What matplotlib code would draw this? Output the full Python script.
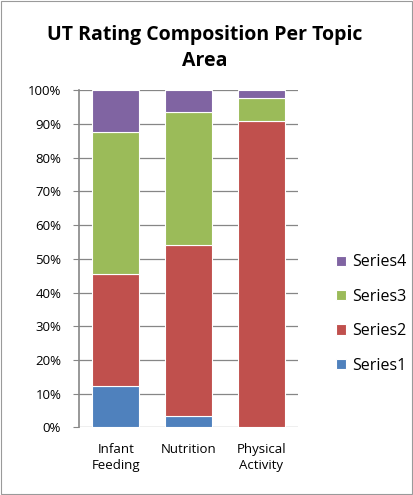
import matplotlib.pyplot as plt
import numpy as np

plt.rcParams['font.family'] = ['Open Sans', 'DejaVu Sans']

categories = ['Infant\nFeeding', 'Nutrition', 'Physical\nActivity']
series_names = ['Series1', 'Series2', 'Series3', 'Series4']
series1 = [12.3, 3.3, 0.0]
series2 = [33.1, 50.7, 91.0]
series3 = [42.3, 39.6, 6.6]
series4 = [12.3, 6.4, 2.4]
colors = ['#4F81BD', '#C0504D', '#9BBB59', '#8064A2']

fig = plt.figure(figsize=(4.13, 4.95), dpi=100)
ax = fig.add_axes([79.3 / 413, 1 - 427.3 / 495, 218.4 / 413, 337 / 495])

x = np.arange(len(categories))
bottom = np.zeros(len(categories))
handles = []
for name, vals, c in zip(series_names, [series1, series2, series3, series4], colors):
    vals = np.array(vals)
    b = ax.bar(x, vals, 0.64, bottom=bottom, color=c, edgecolor='white', linewidth=0.8, label=name, zorder=3)
    handles.append(b)
    bottom += vals

ax.set_xlim(-0.5, 2.5)
ax.set_ylim(0, 100)
ax.set_yticks(np.arange(0, 101, 10))
ax.set_yticklabels([f'{v}%' for v in range(0, 101, 10)], fontsize=9.5)
ax.set_xticks(x)
ax.set_xticklabels(categories, fontsize=9.5, linespacing=1.35)
ax.tick_params(axis='x', length=0, pad=11)
ax.tick_params(axis='y', length=4, color='#868686', pad=9)
ax.grid(axis='y', color='#868686', linewidth=0.9, zorder=0)
for s in ['top', 'right', 'bottom']:
    ax.spines[s].set_visible(False)
ax.spines['left'].set_color('#868686')
ax.spines['left'].set_linewidth(1.2)

fig.text(205 / 413, 1 - 48 / 495, 'UT Rating Composition Per Topic\nArea', ha='center', va='center',
         fontsize=14, fontweight='bold', linespacing=1.35)

leg = fig.legend(handles[::-1], series_names[::-1], loc='center left', bbox_to_anchor=(322 / 413, 1 - 314 / 495),
                 frameon=False, fontsize=11.5, handlelength=0.6, handleheight=0.6, labelspacing=1.15, handletextpad=0.4)

fig.patches.append(plt.Rectangle((0.002, 0.002), 0.996, 0.996, transform=fig.transFigure, fill=False,
                                 edgecolor='#9a9a9a', linewidth=0.8))

fig.savefig('out.png', dpi=100)
